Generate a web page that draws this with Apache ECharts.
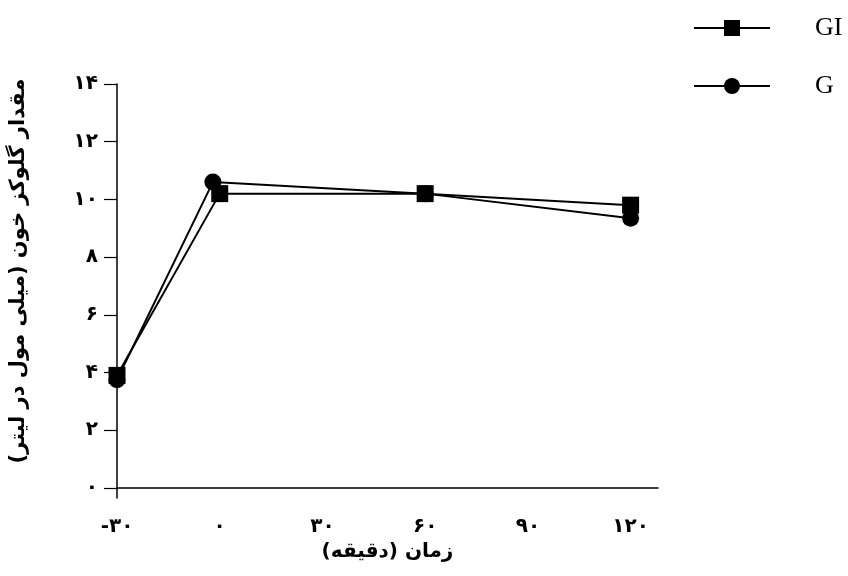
<!DOCTYPE html>
<html>
<head>
<meta charset="utf-8">
<script src="https://cdn.jsdelivr.net/npm/echarts@6/dist/echarts.min.js"></script>
<style>
  html, body { margin: 0; padding: 0; background: #fff; }
  #chart { width: 848px; height: 576px; }
</style>
</head>
<body>
<div id="chart"></div>
<script>
// Blood glucose (mmol/L) over time (minutes) for the GI and G groups
const giTime = [-30, 0, 60, 120];
const giValues = [3.9, 10.2, 10.2, 9.8];
const gTime = [-30, -2, 60, 120];
const gValues = [3.75, 10.6, 10.2, 9.35];

const xTicks = [-30, 0, 30, 60, 90, 120];
const yTicks = [0, 2, 4, 6, 8, 10, 12, 14];

const seriesNames = ['GI', 'G'];
const xTitle = 'زمان (دقیقه)';
const yTitle = 'مقدار گلوکز خون (میلی مول در لیتر)';

// Persian (extended Arabic-Indic) digits for tick labels
const faDigits = ['۰', '۱', '۲', '۳', '۴', '۵', '۶', '۷', '۸', '۹'];
function toFa(v) {
  return String(v).replace(/[0-9]/g, d => faDigits[+d]);
}

const pairs = (xs, ys) => xs.map((x, i) => [x, ys[i]]);

const labelFont = {
  color: '#000',
  fontFamily: 'DejaVu Sans',
  fontWeight: 'bold',
  fontSize: 20
};

const chart = echarts.init(document.getElementById('chart'), null, { renderer: 'canvas' });

chart.setOption({
  backgroundColor: '#fff',
  animation: false,
  grid: { left: 110, right: 190, top: 84, bottom: 78, containLabel: false },
  legend: {
    orient: 'vertical',
    left: 688,
    top: 10,
    data: seriesNames,
    itemWidth: 76,
    itemHeight: 20,
    itemGap: 32,
    textStyle: {
      color: '#000',
      fontFamily: 'Liberation Serif',
      fontSize: 26,
      padding: [0, 0, 0, 40]
    }
  },
  xAxis: {
    type: 'value',
    min: -30,
    max: 128,
    name: xTitle,
    nameLocation: 'middle',
    nameGap: 43,
    nameTextStyle: { color: '#000', fontFamily: 'DejaVu Sans', fontWeight: 'bold', fontSize: 20 },
    axisLine: { onZero: true, lineStyle: { color: '#000', width: 1.5 } },
    axisTick: { show: false },
    splitLine: { show: false },
    axisLabel: Object.assign({
      customValues: xTicks,
      margin: 19,
      formatter: v => toFa(v)
    }, labelFont)
  },
  yAxis: {
    type: 'value',
    min: -0.35,
    max: 14,
    name: yTitle,
    nameLocation: 'middle',
    nameGap: 88,
    nameRotate: 90,
    nameTextStyle: { color: '#000', fontFamily: 'DejaVu Sans', fontWeight: 'bold', fontSize: 21, padding: [0, 0, 0, 40] },
    axisLine: { onZero: false, lineStyle: { color: '#000', width: 1.5 } },
    axisTick: { customValues: yTicks, length: 13, lineStyle: { color: '#000', width: 1.2 } },
    splitLine: { show: false },
    axisLabel: Object.assign({
      customValues: yTicks,
      margin: 19,
      formatter: v => toFa(v)
    }, labelFont)
  },
  series: [
    {
      name: 'G',
      type: 'line',
      data: pairs(gTime, gValues),
      symbol: 'circle',
      symbolSize: 17,
      z: 2,
      lineStyle: { color: '#000', width: 2 },
      itemStyle: { color: '#000', borderWidth: 0 }
    },
    {
      name: 'GI',
      type: 'line',
      data: pairs(giTime, giValues),
      symbol: 'rect',
      symbolSize: 17,
      z: 3,
      lineStyle: { color: '#000', width: 2 },
      itemStyle: { color: '#000', borderWidth: 0 }
    }
  ]
});
</script>
</body>
</html>
